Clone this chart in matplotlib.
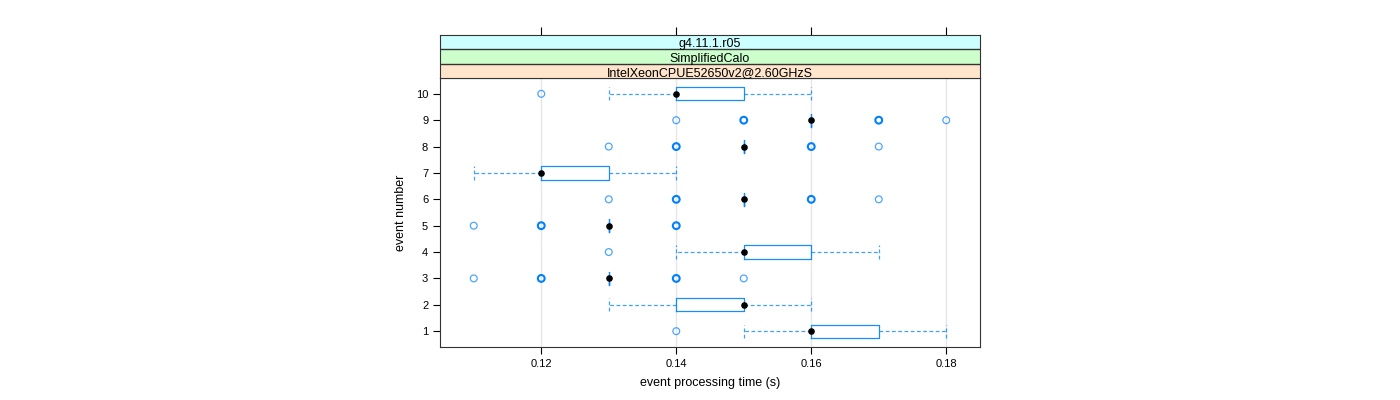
import matplotlib.pyplot as plt
import numpy as np

plt.rcParams['font.family'] = ['Liberation Sans', 'DejaVu Sans']

# per-event box summaries (seconds)
events = [1, 2, 3, 4, 5, 6, 7, 8, 9, 10]
whislo = [0.15, 0.13, 0.13, 0.14, 0.13, 0.15, 0.11, 0.15, 0.16, 0.13]
q1 = [0.16, 0.14, 0.13, 0.15, 0.13, 0.15, 0.12, 0.15, 0.16, 0.14]
med = [0.16, 0.15, 0.13, 0.15, 0.13, 0.15, 0.12, 0.15, 0.16, 0.14]
q3 = [0.17, 0.15, 0.13, 0.16, 0.13, 0.15, 0.13, 0.15, 0.16, 0.15]
whishi = [0.18, 0.16, 0.13, 0.17, 0.13, 0.15, 0.14, 0.15, 0.16, 0.16]

# outliers: event, time, number of coinciding points
out_event = [1, 3, 3, 3, 3, 4, 5, 5, 5, 6, 6, 6, 6, 8, 8, 8, 8, 9, 9, 9, 9, 10]
out_time = [0.14, 0.11, 0.12, 0.14, 0.15, 0.13, 0.11, 0.12, 0.14, 0.13, 0.14, 0.16, 0.17,
            0.13, 0.14, 0.16, 0.17, 0.14, 0.15, 0.17, 0.18, 0.12]
out_count = [1, 1, 3, 3, 1, 1, 1, 3, 3, 1, 3, 3, 1, 1, 3, 3, 1, 1, 3, 3, 1, 1]

strip_labels = ["IntelXeonCPUE52650v2@2.60GHzS", "SimplifiedCalo", "g4.11.1.r05"]
strip_colors = ["#ffe5cc", "#ccffcc", "#ccffff"]
xticks = [0.12, 0.14, 0.16, 0.18]

blue = "#0080ff"
xlim = (0.105, 0.185)

fig = plt.figure(figsize=(14, 4), dpi=100)
ax = fig.add_axes([440 / 1400, 53 / 400, 540 / 1400, 269 / 400])

stats = [dict(whislo=a, q1=b, med=c, q3=d, whishi=e, fliers=[])
         for a, b, c, d, e in zip(whislo, q1, med, q3, whishi)]
ax.bxp(stats, positions=events, orientation='horizontal', widths=0.5,
       capwidths=0.5, showfliers=False,
       boxprops=dict(color=blue, lw=0.9, alpha=0.9),
       whiskerprops=dict(color=blue, lw=0.9, ls=(0, (3, 2)), alpha=0.75),
       capprops=dict(color=blue, lw=0.9, ls=(0, (3, 2)), alpha=0.75),
       medianprops=dict(lw=0))

cnt = np.array(out_count)
ax.scatter(out_time, out_event, s=24, facecolors='none',
           edgecolors=[(0, 0.5, 1, 1.0) if c > 1 else (0, 0.5, 1, 0.7) for c in cnt],
           linewidths=np.where(cnt > 1, 1.5, 0.9), zorder=3)
ax.scatter(med, events, s=14, color='black', zorder=4)

ax.set_xlim(*xlim)
ax.set_ylim(0.4, 10.6)
ax.set_xticks(xticks)
ax.set_xticklabels([f"{t:.2f}" for t in xticks])
ax.set_yticks(events)
ax.set_yticklabels([str(e) for e in events])
ax.grid(axis='x', color='#e6e6e6', lw=1)
ax.set_axisbelow(True)
ax.tick_params(direction='out', length=5, labelsize=8, width=0.8, colors='black')
for s in ax.spines.values():
    s.set_color('#333333')
ax.set_xlabel("event processing time (s)", fontsize=9, labelpad=6)
ax.set_ylabel("event number", fontsize=9, labelpad=6)

# strips
sax = fig.add_axes([440 / 1400, 322 / 400, 540 / 1400, 43 / 400])
sax.set_xlim(*xlim)
sax.set_ylim(0, 3)
for i, (lab, col) in enumerate(zip(strip_labels, strip_colors)):
    sax.axhspan(i, i + 1, color=col, lw=0)
    sax.text(np.mean(xlim), i + 0.45, lab, ha='center', va='center_baseline', fontsize=9)
sax.axhline(1, color='#333333', lw=1)
sax.axhline(2, color='#333333', lw=1)
sax.set_yticks([])
sax.xaxis.tick_top()
sax.set_xticks(xticks)
sax.set_xticklabels([])
sax.tick_params(direction='out', length=6, width=0.8)
for s in sax.spines.values():
    s.set_color('#333333')

fig.savefig("out.png", dpi=100)
